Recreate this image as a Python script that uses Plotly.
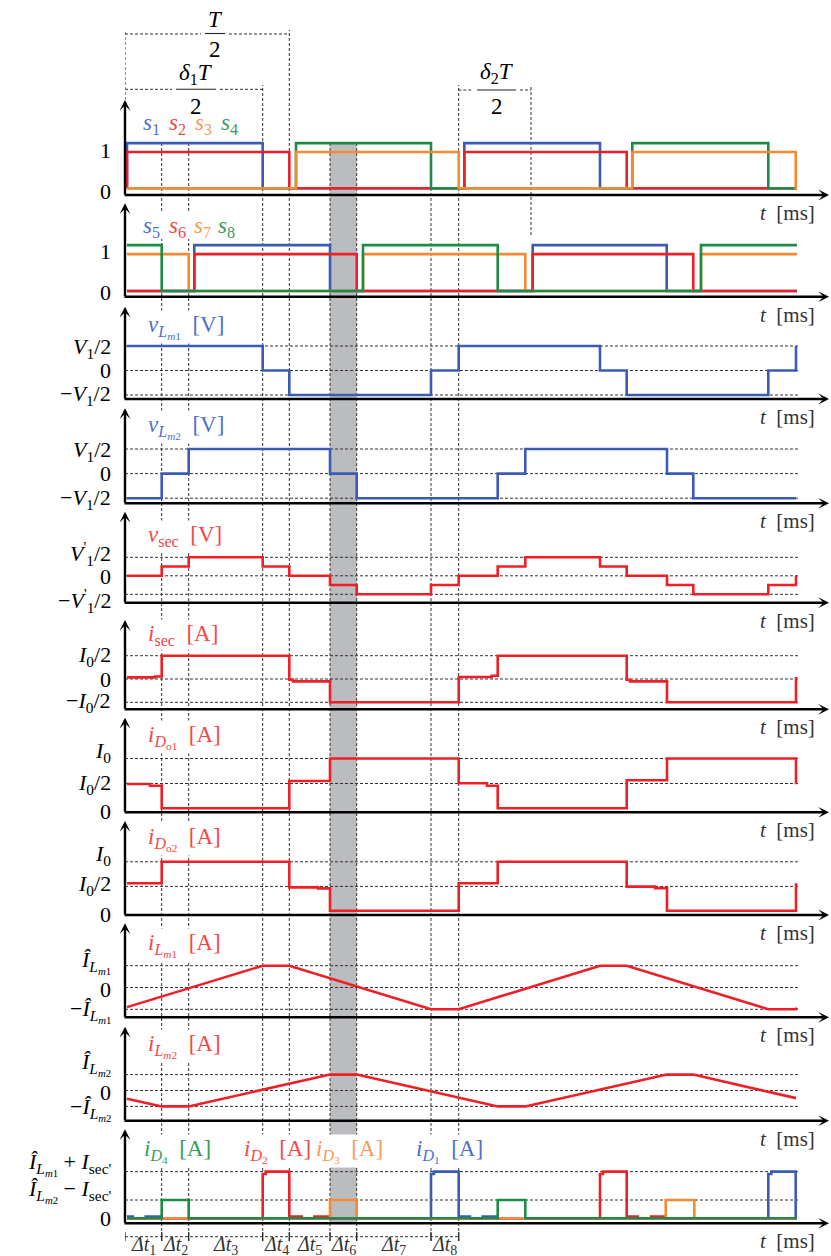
import plotly.graph_objects as go

W, H = 831, 1256
FONT = "Liberation Serif"

BLUE, RED, ORANGE, GREEN = "#3b5bb5", "#ee1f26", "#f58a35", "#1e8b47"
LBLUE, LRED, LORANGE, LGREEN = "#4f6fcc", "#f24848", "#f79a5c", "#3a9a5c"
DASH_C = "#333333"

# ---------------- data (time in ms) ----------------
# gate signals s1..s4
s1_t = [0.2, 0.2, 13.77, 33.93, 47.5, 67.2]
s1_y = [0, 1.12, 0, 1.12, 0, 0]
s2_t = [0.2, 0.2, 16.43, 33.93, 50.17, 67.2]
s2_y = [0, 0.9, 0, 0.9, 0, 0]
s3_t = [0.2, 17.1, 33.37, 50.73, 67.07, 67.2]
s3_y = [0, 0.9, 0, 0.9, 0, 0]
s4_t = [0.2, 17.1, 30.6, 50.73, 64.33, 67.2]
s4_y = [0, 1.12, 0, 1.12, 0, 0]
# gate signals s5..s8
s5_t = [0.2, 6.93, 20.5, 40.77, 54.17, 67.2]
s5_y = [0, 1.12, 0, 1.12, 0, 0]
s6_t = [0.2, 6.93, 23.17, 40.77, 56.83, 67.2]
s6_y = [0, 0.9, 0, 0.9, 0, 0]
s7_t = [0.2, 6.37, 23.8, 40.03, 57.6, 67.2]
s7_y = [0.9, 0, 0.9, 0, 0.9, 0.9]
s8_t = [0.2, 3.67, 23.8, 37.27, 57.6, 67.2]
s8_y = [1.12, 0, 1.12, 0, 1.12, 1.12]
# magnetizing inductor voltages (units of V1/2)
vLm1_t = [0.2, 13.77, 16.43, 30.6, 33.37, 47.5, 50.17, 64.33, 67.1]
vLm1_y = [1, 0, -1, 0, 1, 0, -1, 0, 1]
vLm2_t = [0.2, 3.67, 6.37, 20.5, 23.17, 37.27, 40.03, 54.2, 56.83, 67.1]
vLm2_y = [-1, 0, 1, 0, -1, 0, 1, 0, -1, -1]
# secondary voltage (units of V1'/2)
vsec_t = [0.2, 3.67, 6.37, 13.77, 16.43, 20.5, 23.17, 30.6, 33.37, 37.27, 40.03,
          47.5, 50.17, 54.2, 56.83, 64.33, 67.1]
vsec_y = [0, 0.5, 1, 0.5, 0, -0.5, -1, -0.5, 0, 0.5, 1, 0.5, 0, -0.5, -1, -0.5, 0]
# secondary current (units of I0/2)
isec_t = [0.2, 3.0, 3.67, 16.43, 16.8, 20.5, 33.37, 36.67, 37.27, 50.17, 50.5, 54.2, 67.1]
isec_y = [0.07, 0.11, 1, -0.03, -0.1, -1, 0.085, 0.14, 1, -0.03, -0.1, -1, 0.085]
# output diode currents (units of I0/2)
iDo1_t = [0.2, 2.5, 3.67, 16.43, 20.5, 33.37, 36.2, 37.27, 50.17, 54.2, 67.1]
iDo1_y = [0.98, 0.91, 0.01, 1.1, 2, 1.01, 0.91, 0.01, 1.13, 2, 0.97]
iDo2_t = [0.2, 3.67, 16.43, 19.3, 20.5, 33.37, 37.27, 50.17, 53.0, 54.2, 67.1]
iDo2_y = [1.13, 2, 0.96, 0.92, 0.01, 1.13, 2, 0.99, 0.93, 0.01, 1.13]
# magnetizing currents (units of peak)
iLm1_t = [0.2, 13.77, 16.43, 30.6, 33.37, 47.5, 50.17, 64.33, 67.1, 67.2]
iLm1_y = [-0.9, 1, 1, -1, -1, 1, 1, -1, -1, -0.93]
iLm2_t = [0.2, 3.67, 6.37, 20.5, 23.17, 37.27, 40.03, 54.17, 56.83, 67.1]
iLm2_y = [-0.52, -1, -1, 1, 1, -1, -1, 1, 1, -0.48]
# primary diode currents (lower level = 1, upper level = 2.55)
iD1_t = [0.2, 0.8, 2.07, 3.67, 30.6, 30.9, 33.37, 34.5, 35.77, 37.27, 64.33, 64.63, 67.07, 67.2]
iD1_y = [0.1, 0, 0.1, 0, 2.42, 2.55, 0.1, 0, 0.1, 0, 2.42, 2.55, 0, 0]
iD2_t = [0.2, 13.77, 14.07, 16.43, 17.67, 18.93, 20.5, 47.5, 47.8, 50.17, 51.27, 52.6, 54.07, 67.2]
iD2_y = [0, 2.42, 2.55, 0.1, 0, 0.1, 0, 2.42, 2.55, 0.1, 0, 0.1, 0, 0]
iD3_t = [0.2, 20.5, 23.17, 54.07, 56.93, 67.2]
iD3_y = [0, 1, 0, 1, 0, 0]
iD4_t = [0.2, 3.67, 6.37, 37.27, 40.03, 67.2]
iD4_y = [0, 1, 0, 1, 0, 0]

# switching instants (dashed guides) and interval labels
guide_t = [3.67, 6.37, 13.77, 16.43, 20.5, 23.17, 30.6, 33.37]
dt_edges = [0, 3.67, 6.37, 13.77, 16.43, 20.5, 23.17, 30.6, 33.37]
dt_labels = ["1", "2", "3", "4", "5", "6", "7", "8"]
shade_t = [20.5, 23.17]

# ---------------- layout helpers ----------------
fig = go.Figure()
T0, T1 = 0, 67.5
X0PX, X1PX = 125, 800


def t2px(t):
    return X0PX + (t - T0) * (X1PX - X0PX) / (T1 - T0)


def px_x(p):
    return p / W


def px_y(p):
    return 1 - p / H


# panel: bottom px, top px, zero-level px, px per unit
panels = [
    (195, 100, 188.3, 40.3),
    (296.7, 203.3, 291, 41),
    (399, 306.7, 370.5, 24.5),
    (503.3, 408.3, 473.6, 24.6),
    (602.7, 511.7, 575.8, 18.5),
    (709.3, 620, 679, 23.3),
    (812.3, 717.7, 808.5, 25),
    (915, 821, 911, 24.6),
    (1017.3, 923.3, 987.5, 21.8),
    (1120.7, 1026.7, 1090.5, 15.9),
    (1223.3, 1129.3, 1218.3, 18.3),
]


def sfx(k):
    return "" if k == 1 else str(k)


lay = {}
for k, (b, t, z, u) in enumerate(panels, start=1):
    lay["xaxis" + sfx(k)] = dict(domain=[X0PX / W, X1PX / W], range=[T0, T1], visible=False,
                                 anchor="y" + sfx(k), fixedrange=True)
    lay["yaxis" + sfx(k)] = dict(domain=[1 - b / H, 1 - t / H], range=[(z - b) / u, (z - t) / u],
                                 visible=False, anchor="x" + sfx(k), fixedrange=True)
fig.update_layout(**lay)


def add(k, x, y, color, shape="hv", width=2.6):
    fig.add_trace(go.Scatter(x=x, y=y, mode="lines",
                             line=dict(color=color, width=width, shape=shape),
                             xaxis="x" + sfx(k), yaxis="y" + sfx(k),
                             showlegend=False, hoverinfo="skip"))


# panel 1
add(1, s1_t, s1_y, BLUE)
add(1, s2_t, s2_y, RED)
add(1, s4_t, s4_y, GREEN)
add(1, s3_t, s3_y, ORANGE)
# panel 2
add(2, s5_t, s5_y, BLUE)
add(2, s6_t, s6_y, RED)
add(2, s7_t, s7_y, ORANGE)
add(2, s8_t, s8_y, GREEN)
# panels 3..10
add(3, vLm1_t, vLm1_y, BLUE)
add(4, vLm2_t, vLm2_y, BLUE)
add(5, vsec_t, vsec_y, RED)
add(6, isec_t, isec_y, RED)
add(7, iDo1_t, iDo1_y, RED)
add(8, iDo2_t, iDo2_y, RED)
add(9, iLm1_t, iLm1_y, RED, shape="linear")
add(10, iLm2_t, iLm2_y, RED, shape="linear")
# panel 11
add(11, iD1_t, iD1_y, BLUE)
add(11, iD2_t, iD2_y, RED)
add(11, iD3_t, iD3_y, ORANGE)
add(11, iD4_t, iD4_y, GREEN)

shapes = []
DASH = "3px,2px"
# grey shaded interval
shapes.append(dict(type="rect", xref="x", yref="paper", x0=shade_t[0], x1=shade_t[1],
                   y0=px_y(1222), y1=px_y(143), fillcolor="#bbbcc0", line=dict(width=0),
                   layer="below"))
# horizontal dashed level lines
grid_levels = {3: [1, 0, -1], 4: [1, 0, -1], 5: [1, 0, -1], 6: [1, 0, -1], 7: [2, 1], 8: [2, 1],
               9: [1, 0, -1], 10: [1, 0, -1], 11: [2.55, 1]}
for k, levels in grid_levels.items():
    for lv in levels:
        shapes.append(dict(type="line", xref="x" + sfx(k), yref="y" + sfx(k), x0=0, x1=67.3,
                           y0=lv, y1=lv, line=dict(color=DASH_C, width=1, dash=DASH), layer="below"))
# vertical dashed guides
vtops = [143, 143, 85, 30, 143, 143, 143, 85]
for tv, top in zip(guide_t, vtops):
    shapes.append(dict(type="line", xref="x", yref="paper", x0=tv, x1=tv, y0=px_y(1241), y1=px_y(top),
                       line=dict(color=DASH_C, width=1, dash=DASH), layer="below"))
shapes.append(dict(type="line", xref="x", yref="paper", x0=0, x1=0, y0=px_y(100), y1=px_y(30),
                   line=dict(color=DASH_C, width=1, dash=DASH), layer="below"))
shapes.append(dict(type="line", xref="x", yref="paper", x0=40.6, x1=40.6, y0=px_y(235), y1=px_y(85),
                   line=dict(color=DASH_C, width=1, dash=DASH), layer="below"))


def hdash(t0, t1, ypx, solid=False):
    shapes.append(dict(type="line", xref="x", yref="paper", x0=t0, x1=t1, y0=px_y(ypx), y1=px_y(ypx),
                       line=dict(color="#222" if solid else DASH_C, width=1.1 if solid else 1,
                                 dash="solid" if solid else DASH), layer="below"))


# T/2 bracket
hdash(0, 7.6, 34); hdash(10.4, 16.43, 34); hdash(8.0, 10.0, 33.5, solid=True)
# delta1 T/2 bracket
hdash(0, 4.7, 89.3); hdash(9.5, 13.77, 89.3); hdash(5.1, 9.1, 89.3, solid=True)
# delta2 T/2 bracket
hdash(33.33, 34.8, 90); hdash(39.5, 40.6, 90); hdash(35.2, 39.1, 90, solid=True)
# delta-t row
hdash(0, 33.37, 1236.7)
for te in dt_edges:
    shapes.append(dict(type="line", xref="x", yref="paper", x0=te, x1=te, y0=px_y(1241), y1=px_y(1232),
                       line=dict(color="#222", width=1.2), layer="below"))
# white boxes behind s-labels
shapes.append(dict(type="rect", xref="paper", yref="paper", x0=px_x(138), x1=px_x(241),
                   y0=px_y(239), y1=px_y(213), fillcolor="white", line=dict(width=0), layer="above"))
fig.update_layout(shapes=shapes)

ann = []


def txt(xp, yp, text, size=20, color="black", xanchor="center", yanchor="middle", bg=None):
    ann.append(dict(x=px_x(xp), y=px_y(yp), xref="paper", yref="paper", text=text, showarrow=False,
                    font=dict(family=FONT, size=size, color=color), xanchor=xanchor, yanchor=yanchor,
                    bgcolor=bg, borderpad=1))


# axis arrows
for (b, t, z, u) in panels:
    ann.append(dict(x=px_x(829), y=px_y(b), xref="paper", yref="paper", ax=123 - 829, ay=0,
                    axref="pixel", ayref="pixel", text="", showarrow=True, arrowhead=3,
                    arrowsize=0.75, arrowwidth=2.4, arrowcolor="black"))
    ann.append(dict(x=px_x(125), y=px_y(t), xref="paper", yref="paper", ax=0, ay=(b + 1) - t,
                    axref="pixel", ayref="pixel", text="", showarrow=True, arrowhead=3,
                    arrowsize=0.75, arrowwidth=2.4, arrowcolor="black"))
    txt(817, b + 18, "<i>t</i>  [ms]", size=21, color="#333", xanchor="right")

# y tick labels
V1 = "<i>V</i><sub>1</sub>/2"
V1p = "<i>V</i><sup>'</sup><sub>1</sub>/2"
I02 = "<i>I</i><sub>0</sub>/2"
I0 = "<i>I</i><sub>0</sub>"
IL1 = "<i>Î</i><sub><i>L</i><sub><i>m</i>1</sub></sub>"
IL2 = "<i>Î</i><sub><i>L</i><sub><i>m</i>2</sub></sub>"
ticks = [
    ("1", 150), ("0", 191), ("1", 251), ("0", 292.5),
    (V1, 348), ("0", 370), ("−" + V1, 395),
    (V1, 451), ("0", 474), ("−" + V1, 499),
    (V1p, 553), ("0", 576), ("−" + V1p, 600),
    (I02, 656), ("0", 679), ("−" + I02, 701.5),
    (I0, 752), (I02, 784), ("0", 811),
    (I0, 855), (I02, 885), ("0", 914),
    (IL1, 962), ("0", 989), ("−" + IL1, 1011),
    (IL2, 1064), ("0", 1092), ("−" + IL2, 1109),
    (IL1 + " + <i>I</i><sub>sec'</sub>", 1164),
    (IL2 + " − <i>I</i><sub>sec'</sub>", 1191), ("0", 1218),
]
for text, yp in ticks:
    txt(113, yp, text, size=22, xanchor="right")

# panel labels
for xp, s, c in [(151, "1", LBLUE), (177.5, "2", LRED), (203, "3", LORANGE), (229.5, "4", LGREEN)]:
    txt(xp, 124, "<i>s</i><sub>" + s + "</sub>", size=23, color=c)
for xp, s, c in [(151, "5", LBLUE), (177, "6", LRED), (202.5, "7", LORANGE), (227, "8", LGREEN)]:
    txt(xp, 227, "<i>s</i><sub>" + s + "</sub>", size=23, color=c)

plabels = [
    (327, "<i>v</i><sub><i>L</i><sub><i>m</i>1</sub></sub>  [V]", LBLUE),
    (427, "<i>v</i><sub><i>L</i><sub><i>m</i>2</sub></sub>  [V]", LBLUE),
    (536, "<i>v</i><sub>sec</sub>  [V]", LRED),
    (635, "<i>i</i><sub>sec</sub>  [A]", LRED),
    (737, "<i>i</i><sub><i>D</i><sub>o1</sub></sub>  [A]", LRED),
    (839, "<i>i</i><sub><i>D</i><sub>o2</sub></sub>  [A]", LRED),
    (945, "<i>i</i><sub><i>L</i><sub><i>m</i>1</sub></sub>  [A]", LRED),
    (1046, "<i>i</i><sub><i>L</i><sub><i>m</i>2</sub></sub>  [A]", LRED),
]
for yp, text, c in plabels:
    txt(146, yp, text, size=23, color=c, xanchor="left", bg="white")

for xp, d, c in [(142, "4", LGREEN), (242, "2", LRED), (314, "3", LORANGE), (414, "1", LBLUE)]:
    txt(xp, 1151, "<i>i</i><sub><i>D</i><sub>" + d + "</sub></sub>  [A]", size=23, color=c,
        xanchor="left", bg="white")

# bracket fractions
txt(t2px(9.0), 20, "<i>T</i>", size=23)
txt(t2px(9.0), 49, "2", size=23)
txt(t2px(7.1), 74, "<i>δ</i><sub>1</sub><i>T</i>", size=23)
txt(t2px(7.1), 107, "2", size=23)
txt(t2px(37.15), 73, "<i>δ</i><sub>2</sub><i>T</i>", size=23)
txt(t2px(37.15), 106, "2", size=23)

# delta-t labels
for i, lab in enumerate(dt_labels):
    xc = t2px((dt_edges[i] + dt_edges[i + 1]) / 2)
    txt(xc, 1245, "<i>Δt</i><sub>" + lab + "</sub>", size=20, color="#333")

fig.update_layout(annotations=ann, width=W, height=H, margin=dict(l=0, r=0, t=0, b=0),
                  paper_bgcolor="white", plot_bgcolor="white", showlegend=False)

fig.write_html("out.html", config={"displayModeBar": False},
               post_script="document.body.style.margin='0';document.body.style.overflow='hidden';")
